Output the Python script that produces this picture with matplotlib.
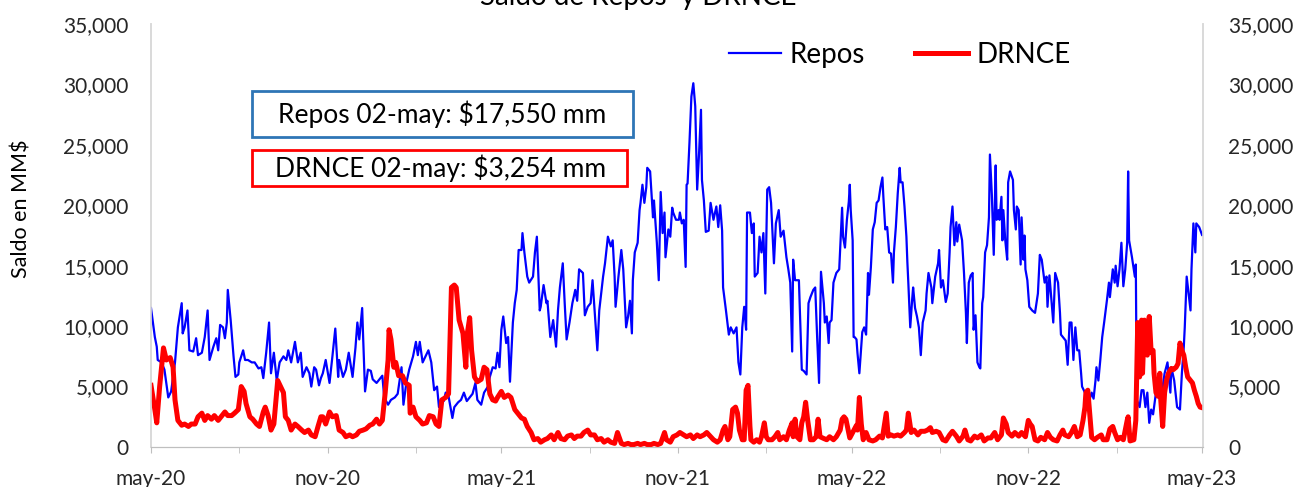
import matplotlib
matplotlib.use('Agg')
import matplotlib.pyplot as plt
import matplotlib.dates as mdates
from matplotlib.patches import Rectangle
from matplotlib.ticker import FuncFormatter, MultipleLocator
import numpy as np

plt.rcParams['font.family'] = ['Lato', 'DejaVu Sans']

# ---------------- data (days since 2020-05-01, balances in MM$) ----------------
start_date = '2020-05-01'
end_date = '2023-05-02'

repos_days = [
    0, 4, 6, 7, 11, 14, 18, 21, 25, 28, 32, 33, 35, 38, 40, 44, 47, 49, 53, 56,
    59, 61, 65, 68, 70, 72, 75, 77, 79, 80, 83, 86, 88, 91, 92, 96, 98, 101, 105, 108,
    112, 115, 117, 120, 123, 125, 128, 131, 134, 138, 141, 143, 146, 150, 153, 156, 158, 162, 165, 167,
    170, 172, 175, 177,
    179, 182, 186, 189, 192, 195, 196, 200, 203, 206, 210, 213, 215, 217, 220, 221, 223, 226, 229, 231,
    235, 238, 241, 243, 247, 250, 254, 257, 261, 263, 266, 269, 273, 276, 278, 280, 283, 286, 289, 292,
    295, 298, 300, 302, 305, 307, 310, 314, 316, 320, 323, 326, 329, 332, 335, 338, 340, 344, 347, 351,
    353, 356, 359,
    361, 363, 365, 367, 370, 372, 374, 377, 379, 381, 383, 386, 387, 389, 392, 394, 398, 400, 402, 405,
    406, 409, 412, 413, 416, 419, 422, 424, 426, 429, 431, 433, 436, 439, 442, 444, 446, 450, 452, 455,
    458, 460, 463, 465, 467, 471, 473, 476, 479, 481, 483, 484, 487, 490, 492, 495, 497, 499, 501, 502,
    504, 507, 509, 510, 512, 514, 516, 517, 520, 523, 524, 527, 529, 531, 533, 535, 536, 539, 541, 543,
    544, 547, 550, 551, 553, 555, 557, 558, 559, 561, 563, 565, 567, 569, 571, 573, 574, 576, 578, 581,
    583, 586, 589, 591, 593, 595, 596, 599, 602, 604, 607, 610, 612, 614, 616, 618, 620, 621, 624, 626,
    628, 629, 632, 634, 636, 638, 640, 642, 644, 646, 649, 651, 654, 656, 659, 662, 664, 666, 668, 669,
    671, 675, 676, 678, 680, 683, 685, 687, 690, 692, 694, 696, 698, 701, 702, 704, 706, 707, 709, 711,
    714, 717, 720, 721, 723, 725, 727, 728, 729, 731, 732,
    733, 735, 736, 738, 741, 743, 745, 747, 748, 750, 752, 754, 756, 758, 760, 762, 763, 765, 767, 769,
    771, 773, 774, 776, 778, 780, 781, 783, 785, 787, 788, 789, 791, 793, 794, 796, 798, 800, 802, 804,
    807, 808, 810, 813, 814, 817, 820, 821, 823, 825, 828, 830, 832, 833, 835, 837, 839, 840, 842, 845,
    847, 849, 850, 852, 854, 856, 857, 859, 861, 863, 864, 866, 867, 869, 871, 873, 874, 876, 878, 880,
    881, 883, 884, 886, 887, 888, 890, 892, 893, 895, 898, 899, 901, 902, 904, 906, 907, 909, 910, 911,
    913, 915,
    918, 921, 924, 926, 928, 931, 933, 934, 936, 938, 940, 942, 945, 947, 948, 951, 953, 955, 957, 959,
    961, 963, 965, 967, 969, 970, 973, 975, 977, 980, 982, 984, 985, 987, 989, 991, 993, 996, 998, 999,
    1002, 1004, 1005, 1007, 1009, 1011, 1013, 1015, 1017, 1018, 1019, 1022, 1025, 1026, 1027, 1030, 1032, 1034, 1036, 1038,
    1040, 1042, 1044, 1047, 1049, 1051, 1054, 1056, 1059, 1062, 1063, 1066, 1069, 1072, 1074, 1076, 1077, 1079, 1081, 1083,
    1084, 1086, 1088, 1089, 1092, 1095,
]

repos_vals = [
    11500, 9100, 8300, 7200, 7000, 6400, 4100, 4600, 7000, 9900, 11900, 9400, 9900, 11300, 8000, 7900, 9000, 7600, 7800, 9100,
    11300, 7200, 8300, 9000, 8000, 10100, 9900, 9000, 10300, 13000, 10500, 7500, 5800, 6000, 7000, 8000, 7200, 7200, 7000, 7000,
    6500, 6600, 5700, 7800, 10300, 6100, 7800, 5500, 7000, 7500, 7200, 8000, 7000, 8700, 7000, 7800, 5800, 6600, 6100, 5000,
    6600, 6400, 5100, 5700,
    6100, 7200, 5300, 7500, 9800, 5800, 7200, 5800, 6400, 7800, 5800, 8200, 10300, 8900, 11500, 9100, 4600, 6400, 6300, 5600,
    5300, 5600, 5900, 4100, 3500, 3900, 4100, 4400, 6600, 3500, 5300, 6400, 7500, 8700, 7600, 8700, 7000, 7500, 8000, 7000,
    4700, 5000, 3300, 3900, 3800, 4500, 4200, 2400, 3300, 3700, 3900, 4500, 3800, 4100, 4400, 5300, 3900, 3500, 4500, 5000,
    5800, 6600, 6500,
    7800, 6600, 9700, 10800, 8600, 9100, 5400, 10300, 11900, 13000, 16300, 16300, 17700, 16100, 14100, 13600, 14100, 16100, 17400, 11300,
    11600, 13400, 11900, 12100, 9100, 10500, 8300, 11300, 13200, 15200, 11900, 8900, 10300, 11900, 13000, 12100, 14700, 14400, 10900, 11600,
    11900, 13800, 10300, 8000, 11300, 14100, 15200, 17400, 16600, 17100, 14100, 11600, 14100, 16300, 14700, 9900, 10800, 12100, 9400, 13800,
    16100, 16900, 19600, 20200, 21700, 20200, 21500, 23100, 22800, 19000, 20400, 16900, 13800, 21100, 17700, 19400, 15700, 18000, 17400, 19800,
    19400, 18800, 18800, 19400, 18500, 18800, 14900, 21700, 21800, 25200, 29000, 30100, 28200, 21300, 24300, 27900, 22100, 20400, 17800, 17900,
    20200, 18800, 19900, 18200, 20000, 17900, 13200, 11300, 9300, 9900, 9400, 9900, 7000, 6000, 9900, 11600, 9700, 19400, 19400, 17700,
    18500, 14100, 14400, 17400, 16100, 17700, 12700, 21300, 21500, 20200, 15200, 18500, 19600, 17400, 17900, 15700, 14700, 13600, 7900, 15500,
    13800, 13800, 11300, 6400, 6300, 6000, 11900, 12400, 13000, 13200, 9100, 5300, 14500, 11900, 10300, 10800, 8600, 10300, 10500, 13600,
    14400, 14700, 19800, 17400, 16500, 18800, 20300, 21700, 19600, 17100, 9100,
    9100, 8900, 7800, 6100, 9500, 9900, 9300, 14400, 12600, 14900, 18000, 18600, 20200, 20400, 21500, 22300, 20700, 18000, 18200, 16100,
    16000, 13600, 16100, 18200, 21000, 23100, 21900, 21900, 19900, 17400, 15300, 13600, 9900, 12200, 13200, 11500, 10800, 9900, 7600, 10300,
    11300, 12700, 14400, 13200, 11900, 14100, 15200, 16300, 13200, 13800, 12000, 12700, 16100, 18200, 19900, 16700, 18600, 17000, 18400, 17100,
    14400, 11100, 8600, 13600, 14200, 14400, 9700, 10900, 7000, 6600, 6500, 11900, 12400, 16100, 16700, 19000, 24200, 20900, 15900, 23300,
    18800, 19600, 18800, 20700, 17100, 19600, 17100, 15500, 21900, 22800, 22100, 19600, 18000, 19900, 19600, 15100, 19000, 15500, 17500, 14700,
    13800, 11600,
    11300, 11100, 12700, 15900, 15500, 13600, 14100, 11600, 14200, 12200, 10300, 14400, 13600, 11100, 9300, 9000, 8800, 6800, 10300, 10300,
    7200, 9900, 8000, 8000, 6100, 5000, 4500, 3900, 3700, 4500, 4000, 5500, 6600, 5500, 7200, 9100, 10300, 12200, 13600, 12400,
    14700, 13600, 15000, 13300, 14700, 16900, 13300, 14700, 16900, 22800, 17100, 15700, 14100, 15100, 3900, 3300, 4700, 4700, 3300, 4500,
    2000, 3100, 2700, 4500, 5300, 4500, 5000, 6100, 7000, 4500, 6600, 5500, 3300, 3100, 6100, 8300, 9900, 14100, 12700, 11300,
    14700, 18500, 16100, 18500, 18200, 17550,
]

drnce_days = [
    0, 4, 6, 9, 13, 16, 20, 23, 25, 28, 32, 35, 39, 42, 46, 49, 53, 56, 59, 63,
    66, 70, 73, 77, 80, 84, 87, 91, 94, 97, 99, 103, 106, 110, 113, 117, 119, 122, 125, 128,
    132, 135, 138, 140, 143, 146, 150, 153, 157, 160, 164, 167, 171, 174, 177,
    179, 182, 186, 189, 193, 196, 200, 203, 207, 210, 214, 217, 221, 224, 228, 231, 235, 238, 241, 244,
    247, 248, 250, 253, 255, 258, 262, 265, 269, 270, 273, 276, 280, 283, 287, 290, 294, 297, 300, 303,
    307, 310, 313, 316, 318, 321, 325, 328, 329, 332, 334, 337, 340, 344, 347, 350, 353, 356, 359,
    361, 365, 368, 372, 375, 379, 382, 386, 389, 392, 396, 399, 403, 406, 410, 413, 417, 420, 424, 427,
    431, 434, 438, 441, 444, 448, 451, 455, 458, 462, 465, 469, 472, 476, 479, 483, 486, 490, 493, 497,
    500, 503, 507, 510, 514, 517, 521, 524, 528, 531, 535, 537, 541,
    544, 548, 551, 555, 558, 562, 565, 569, 572, 576, 579, 583, 586, 590, 593, 596, 598, 601, 603, 606,
    609, 611, 613, 616, 618, 620, 622, 624, 625, 628, 631, 634, 636, 639, 641, 643, 647, 650, 653, 655,
    659, 662, 665, 668, 669, 671, 673, 676, 678, 680, 682, 684, 687, 690, 693, 695, 697, 701, 704, 707,
    711, 714, 718, 720, 722, 724,
    728, 731, 735, 736, 738, 740, 742, 745, 748, 752, 755, 759, 762, 766, 768, 771, 774, 778, 781, 785,
    787, 789, 792, 795, 799, 802, 806, 809, 812, 814, 818, 821, 825, 828, 832, 835, 839, 842, 846, 848,
    851, 854, 858, 861, 865, 868, 872, 875, 879, 882, 886, 888, 891, 893, 897, 900, 904, 907,
    911, 914, 916, 918, 921, 924, 927, 931, 934, 937, 940, 944, 947, 950, 952, 956, 959, 962, 965, 968,
    971, 973, 974, 976, 978, 980, 983, 986, 990, 992, 996, 999, 1002, 1004, 1007, 1010, 1013, 1017, 1018, 1020,
    1024, 1026, 1028, 1030, 1032, 1033, 1035, 1036, 1038, 1040, 1042, 1044, 1045, 1047, 1049, 1051, 1052, 1054, 1056, 1058,
    1060, 1063, 1065, 1068, 1070, 1072, 1074, 1076, 1078, 1080, 1083, 1085, 1087, 1089, 1091, 1093, 1095,
]

drnce_vals = [
    5100, 3100, 2000, 5000, 8200, 7200, 7400, 6600, 3900, 2200, 1800, 1900, 1700, 1900, 1900, 2500, 2800, 2200, 2600, 2300,
    2600, 2200, 2500, 2900, 2600, 2600, 2800, 3100, 5000, 4600, 3600, 2500, 2300, 1900, 1700, 2900, 3300, 2600, 1400, 1900,
    5500, 5000, 4500, 2500, 2200, 1400, 1900, 1700, 1400, 1200, 1400, 1000, 850, 1700, 2500,
    2500, 1900, 2900, 2500, 2600, 1400, 1200, 850, 1000, 850, 1000, 1300, 1400, 1500, 1800, 1900, 2300, 1900, 2200, 4500,
    7200, 9700, 8900, 6600, 7000, 5900, 5900, 5300, 5100, 2800, 3300, 2500, 2200, 1900, 2000, 2600, 2500, 1900, 1700, 3900,
    4100, 4400, 13200, 13400, 13200, 10500, 9400, 6600, 9100, 10700, 8000, 5800, 5400, 5600, 6600, 6400, 4400, 3900, 3800,
    4100, 4600, 4100, 4300, 4100, 3100, 2800, 2400, 2300, 1700, 1200, 600, 700, 400, 600, 700, 1000, 600, 1200, 700,
    600, 900, 1000, 700, 900, 900, 1200, 1400, 1000, 1000, 600, 700, 400, 600, 400, 300, 1200, 300, 200, 300,
    200, 200, 300, 200, 300, 200, 200, 300, 200, 300, 1200, 600, 400,
    850, 1000, 1200, 1000, 850, 1000, 700, 1000, 850, 1000, 1200, 850, 600, 400, 600, 1400, 1700, 600, 850, 3100,
    3300, 2800, 1400, 600, 600, 4700, 5100, 1700, 600, 400, 600, 400, 850, 2000, 850, 600, 600, 850, 1200, 600,
    850, 600, 1400, 2000, 850, 2300, 850, 600, 2000, 2500, 3700, 2300, 600, 600, 850, 2300, 850, 700, 600, 850,
    600, 850, 1400, 2300, 2500, 2300,
    750, 1200, 1800, 1400, 4100, 1900, 600, 1200, 600, 500, 600, 900, 750, 2800, 900, 1000, 900, 1000, 900, 1200,
    1400, 2800, 1200, 1400, 1000, 1300, 1300, 1400, 1600, 1200, 1300, 1200, 600, 500, 1000, 1300, 900, 500, 900, 1400,
    600, 500, 900, 750, 1000, 500, 750, 750, 1200, 600, 1000, 2400, 1900, 1200, 900, 1200, 900, 1200,
    850, 2200, 1900, 1700, 600, 500, 800, 600, 1200, 800, 600, 500, 1000, 1400, 1000, 850, 1200, 1700, 850, 1000,
    2200, 3300, 4500, 4700, 2800, 800, 600, 800, 1000, 600, 600, 1500, 1700, 1200, 600, 800, 600, 2200, 2500, 500,
    600, 2200, 10300, 5800, 10500, 6100, 10500, 8000, 7600, 10800, 7800, 8000, 6100, 4500, 4200, 6100, 3900, 1700, 4500, 5500,
    6100, 6500, 6400, 6600, 6900, 8600, 8000, 7600, 6600, 5800, 5500, 5300, 4700, 4200, 3600, 3300, 3254,
]

title = 'Saldo de Repos  y DRNCE'
ylabel = 'Saldo en MM$'
series_labels = ['Repos', 'DRNCE']
box_texts = ['Repos 02-may: $17,550 mm', 'DRNCE 02-may: $3,254 mm']
month_names = {5: 'may', 11: 'nov'}

# ---------------- build ----------------
base = np.datetime64(start_date)
repos_x = base + np.array(repos_days).astype('timedelta64[D]')
drnce_x = base + np.array(drnce_days).astype('timedelta64[D]')

W, H = 1298, 487
fig = plt.figure(figsize=(W / 100, H / 100), dpi=100)
ax = fig.add_axes([151 / W, 1 - 447 / H, (1203 - 151) / W, (447 - 24) / H])

ax.plot(repos_x, repos_vals, color='#0000FF', lw=1.6, label=series_labels[0], zorder=3)
ax.plot(drnce_x, drnce_vals, color='#FF0000', lw=3.6, label=series_labels[1], zorder=4,
        solid_joinstyle='round')

ax.set_xlim(np.datetime64(start_date), np.datetime64(end_date))
ax.set_ylim(0, 35000)

txt_color = '#262626'
yfmt = FuncFormatter(lambda v, p: f'{v:,.0f}')
ax.yaxis.set_major_locator(MultipleLocator(5000))
ax.yaxis.set_major_formatter(yfmt)
ax.tick_params(axis='y', length=0, pad=16, labelsize=15, labelcolor=txt_color)

ax2 = ax.twinx()
ax2.set_ylim(0, 35000)
ax2.yaxis.set_major_locator(MultipleLocator(5000))
ax2.yaxis.set_major_formatter(yfmt)
ax2.tick_params(axis='y', length=0, pad=18, labelsize=15, labelcolor=txt_color)

ax.xaxis.set_major_locator(mdates.MonthLocator(bymonth=[5, 11]))
ax.xaxis.set_minor_locator(mdates.MonthLocator(bymonth=[2, 8]))
ax.xaxis.set_major_formatter(FuncFormatter(
    lambda v, p: f"{month_names[mdates.num2date(v).month]}-{mdates.num2date(v).year % 100:02d}"))
ax.tick_params(axis='x', which='both', length=4, color='#BFBFBF', direction='out')
ax.tick_params(axis='x', which='major', pad=12, labelsize=15, labelcolor=txt_color)

for a in (ax, ax2):
    a.spines['top'].set_visible(False)
    a.spines['left'].set_color('#D9D9D9')
    a.spines['right'].set_color('#D9D9D9')
    a.spines['bottom'].set_color('#BFBFBF')
    a.spines['left'].set_linewidth(1.2)
    a.spines['right'].set_linewidth(1.2)

leg = ax.legend(loc='center left', bbox_to_anchor=(0.549, 0.927), ncol=2, frameon=False,
                fontsize=20, handlelength=1.9, handletextpad=0.3, columnspacing=1.8,
                borderpad=0, borderaxespad=0)
for t in leg.get_texts():
    t.set_color('#000000')

# annotation boxes
ax.add_patch(Rectangle((0.096, 0.733), 0.362, 0.109, transform=ax.transAxes,
                       facecolor='white', edgecolor='#2E75B6', lw=2, zorder=6))
ax.text(0.277, 0.787, box_texts[0], transform=ax.transAxes, ha='center', va='center',
        fontsize=19, color='#000000', zorder=7)
ax.add_patch(Rectangle((0.096, 0.617), 0.356, 0.085, transform=ax.transAxes,
                       facecolor='white', edgecolor='#FF0000', lw=2, zorder=6))
ax.text(0.275, 0.660, box_texts[1], transform=ax.transAxes, ha='center', va='center',
        fontsize=19, color='#000000', zorder=7)

fig.text(638 / W, 1 - 5 / H, title, ha='center', va='baseline', fontsize=20, color='#000000')
fig.text(22 / W, 1 - 209 / H, ylabel, rotation=90, ha='center', va='center', fontsize=15.5,
         color='#000000')

fig.savefig('out.png', dpi=100)
